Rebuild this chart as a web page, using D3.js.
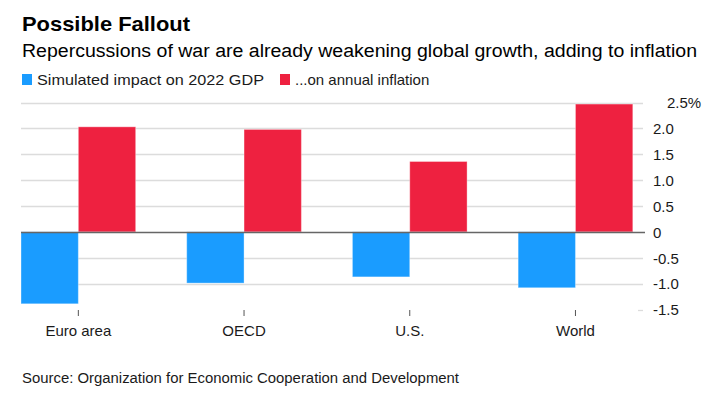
<!DOCTYPE html>
<html><head><meta charset="utf-8">
<script src="https://cdn.jsdelivr.net/npm/d3@7"></script>
<style>
html,body{margin:0;padding:0;background:#fff;}
svg{display:block;font-family:"Liberation Sans",Arial,sans-serif;}
</style></head>
<body>
<svg id="chart" width="723" height="412"></svg>
<script>
const categories = ["Euro area", "OECD", "U.S.", "World"];
const gdpImpact = [-1.39, -0.99, -0.87, -1.08];
const inflationImpact = [2.03, 1.98, 1.36, 2.47];
const seriesNames = ["Simulated impact on 2022 GDP", "...on annual inflation"];
const seriesColors = ["#1a9cff", "#ee2140"];
const yTicks = [-1.5, -1.0, -0.5, 0, 0.5, 1.0, 1.5, 2.0, 2.5];
const yTickLabels = ["-1.5", "-1.0", "-0.5", "0", "0.5", "1.0", "1.5", "2.0", "2.5%"];

const svg = d3.select("#chart");

function fit(sel, w) {
  const n = sel.node();
  const len = n.getComputedTextLength();
  if (Math.abs(len - w) > 1.5) sel.attr("textLength", w).attr("lengthAdjust", "spacingAndGlyphs");
  return sel;
}

// Title & subtitle
fit(svg.append("text").attr("x", 22).attr("y", 31).attr("font-size", 21).attr("font-weight", "bold")
  .attr("fill", "#000").text("Possible Fallout"), 168);
fit(svg.append("text").attr("x", 22).attr("y", 57).attr("font-size", 18).attr("fill", "#000")
  .text("Repercussions of war are already weakening global growth, adding to inflation"), 675);

// Legend
const legX = [22, 280];
const legW = [227, 135];
seriesNames.forEach((name, i) => {
  svg.append("rect").attr("x", legX[i]).attr("y", 74).attr("width", 10).attr("height", 11).attr("fill", seriesColors[i]);
  fit(svg.append("text").attr("x", legX[i] + 15).attr("y", 85).attr("font-size", 15).attr("fill", "#1a1a1a").text(name), legW[i]);
});

// Scales
const x = d3.scaleBand().domain(categories).range([21, 632.8]).paddingInner(0.308).paddingOuter(0);
const x1 = d3.scaleBand().domain([0, 1]).range([0, x.bandwidth()]);
const y = d3.scaleLinear().domain([-1.5, 2.5]).range([309.5, 102.5]);

const gridL = 21, gridR = 643;

// Gridlines
svg.append("g").selectAll("line").data(yTicks.filter(t => t !== 0)).join("line")
  .attr("x1", d => d === -1.5 ? gridR - 5 : gridL).attr("x2", gridR)
  .attr("y1", d => Math.round(y(d)) + 0.5).attr("y2", d => Math.round(y(d)) + 0.5)
  .attr("stroke", "#dcdcdc").attr("stroke-width", 1.3);

// Y axis labels
const yAxis = d3.axisRight(y).tickValues(yTicks).tickSize(0).tickPadding(0)
  .tickFormat(d => yTickLabels[yTicks.indexOf(d)]);
const yg = svg.append("g").attr("transform", `translate(653,0)`).call(yAxis);
yg.select(".domain").remove();
yg.selectAll("text").attr("font-size", 15).attr("fill", "#1a1a1a").attr("font-family", "Liberation Sans, Arial, sans-serif")
  .attr("dy", "0.35em").attr("x", d => d === 2.5 ? 14 : 0);

// Bars
const rows = categories.map((c, i) => ({cat: c, vals: [gdpImpact[i], inflationImpact[i]]}));
const groups = svg.append("g").selectAll("g").data(rows).join("g")
  .attr("transform", d => `translate(${x(d.cat)},0)`);
groups.selectAll("rect").data(d => d.vals.map((v, k) => ({v, k}))).join("rect")
  .attr("x", d => x1(d.k))
  .attr("width", x1.bandwidth())
  .attr("y", d => Math.min(y(0), y(d.v)))
  .attr("height", d => Math.abs(y(d.v) - y(0)))
  .attr("fill", d => seriesColors[d.k])
  .attr("stroke", "rgba(255,255,255,0.35)").attr("stroke-width", 1);

// Zero line
svg.append("line").attr("x1", gridL).attr("x2", gridR + 2)
  .attr("y1", Math.round(y(0)) + 0.5).attr("y2", Math.round(y(0)) + 0.5)
  .attr("stroke", "#666").attr("stroke-width", 1.3);

// X axis
const xAxis = d3.axisBottom(x).tickSize(6).tickPadding(9);
const xg = svg.append("g").attr("transform", `translate(0,310)`).call(xAxis);
xg.select(".domain").remove();
xg.selectAll(".tick line").attr("stroke", "#555");
xg.selectAll("text").attr("font-size", 15).attr("fill", "#1a1a1a").attr("font-family", "Liberation Sans, Arial, sans-serif");

// Source
fit(svg.append("text").attr("x", 22).attr("y", 383).attr("font-size", 14).attr("fill", "#1a1a1a")
  .text("Source: Organization for Economic Cooperation and Development"), 437);
</script>
</body></html>
